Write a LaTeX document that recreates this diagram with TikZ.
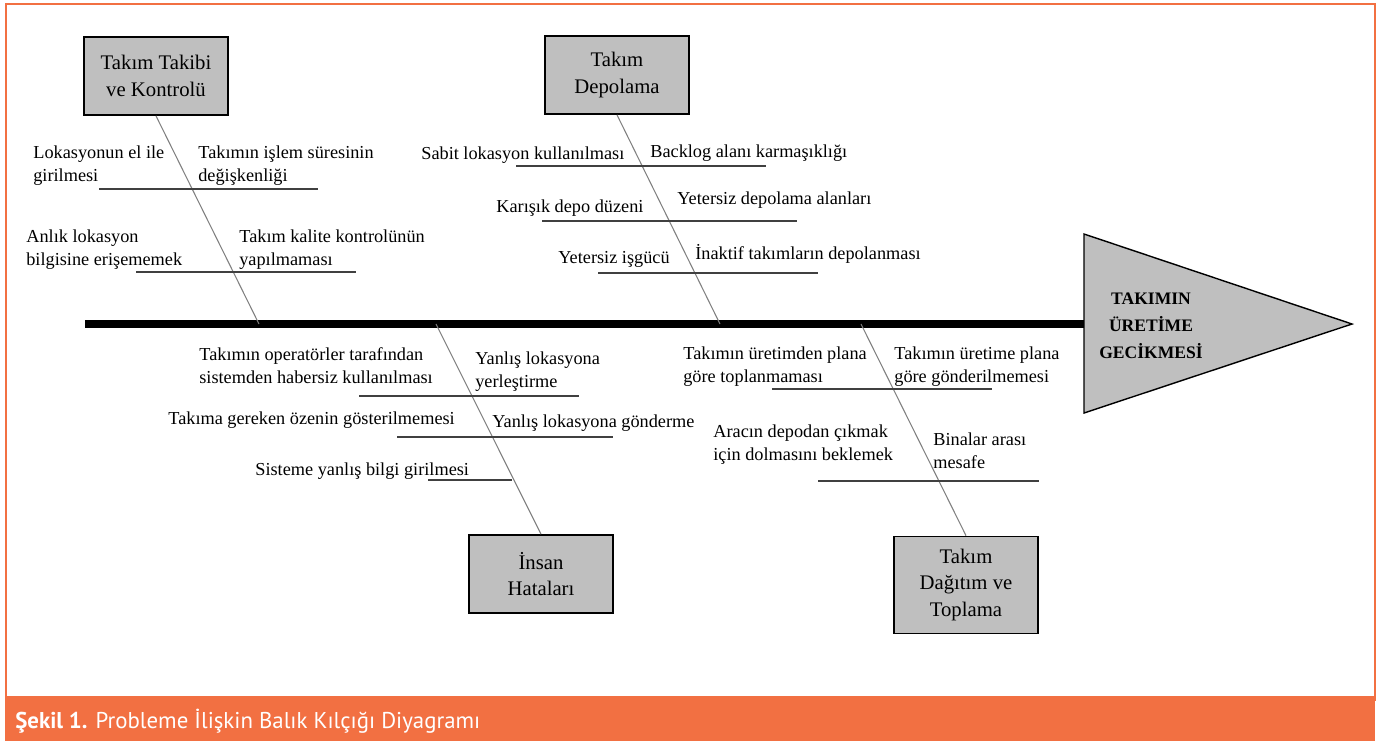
\documentclass[tikz,border=0pt]{standalone}
\usepackage{fontspec}
\setmainfont{Liberation Serif}
\newfontfamily\capfont{PT Sans}
\usepackage{xcolor}
\usetikzlibrary{positioning}
\definecolor{frameorange}{RGB}{242,112,66}
\definecolor{boxgray}{RGB}{191,191,191}
\tikzset{
  cause/.style={draw=black, line width=1pt, fill=boxgray, minimum width=2.88cm, minimum height=1.56cm, align=center, inner sep=0pt, font=\fontsize{11.8}{15.3}\selectfont},
  bone/.style={draw=black!50, line width=0.6pt},
  twig/.style={draw=black!75, line width=0.6pt},
  lbl/.style={anchor=base west, align=left, inner sep=0pt, font=\fontsize{10.4}{12.8}\selectfont},
}

\begin{document}
\begin{tikzpicture}[x=0.02cm, y=-0.02cm]
\useasboundingbox (0,0) rectangle (1378,741);
% frame and caption bar
\draw[frameorange, line width=0.8pt] (6,4) rectangle (1375,700);
\fill[frameorange] (5,696) rectangle (1375,741);
\node[anchor=base west, inner sep=0pt, text=white, font=\capfont\fontsize{13}{15}\selectfont] (caption) at (15,728) {\textbf{Şekil 1.} Probleme İlişkin Balık Kılçığı Diyagramı};

% head and spine
\filldraw[fill=boxgray, draw=black, line width=0.8pt] (1084,234) -- (1352,324) -- (1084,413) -- cycle;
\node[align=center, font=\bfseries\fontsize{10}{15.3}\selectfont] (effect) at (1151,326) {TAKIMIN\\ÜRETİME\\GECİKMESİ};
\coordinate (tail) at (85,324);
\coordinate (mouth) at (1084,324);
\draw[line width=4pt] (tail) -- (mouth);

% main causes
\node[cause] (tracking) at (156,76) {Takım Takibi\\ve Kontrolü};
\node[cause] (storage) at (617,75) {Takım\\Depolama};
\node[cause] (human) at (541,574) {İnsan\\Hataları};
\node[cause, minimum height=1.94cm] (dist) at (966,585) {Takım\\Dağıtım ve\\Toplama};

\coordinate (s1) at (259,324);
\coordinate (s2) at (720,324);
\coordinate (s3) at (436,324);
\coordinate (s4) at (861,324);
\draw[bone] (tracking.south) -- (s1);
\draw[bone] (storage.south) -- (s2);
\draw[bone] (human.north) -- (s3);
\draw[bone] (dist.north) -- (s4);

% sub causes
\foreach \n/\xa/\xb/\yy in {1/99/318/189, 2/136/356/272, 3/516/766/166, 4/542/797/221, 5/598/818/273,
  6/359/579/396, 7/397/613/437, 8/428/512/480, 9/772/992/389, 10/818/1039/481} {
  \coordinate (tw\n a) at (\xa,\yy);
  \coordinate (tw\n b) at (\xb,\yy);
  \draw[twig] (tw\n a) -- (tw\n b);
}

% labels (two-line ones sit on their last baseline)
\node[lbl] (a1) at (33,181) {Lokasyonun el ile\\girilmesi};
\node[lbl] (a2) at (198,181) {Takımın işlem süresinin\\değişkenliği};
\node[lbl] (a3) at (26,265) {Anlık lokasyon\\bilgisine erişememek};
\node[lbl] (a4) at (239,265) {Takım kalite kontrolünün\\yapılmaması};

\node[lbl] (b1) at (421,159) {Sabit lokasyon kullanılması};
\node[lbl] (b2) at (650,157) {Backlog alanı karmaşıklığı};
\node[lbl] (b3) at (496,212) {Karışık depo düzeni};
\node[lbl] (b4) at (677,204) {Yetersiz depolama alanları};
\node[lbl] (b5) at (558,263) {Yetersiz işgücü};
\node[lbl] (b6) at (695,259) {İnaktif takımların depolanması};

\node[lbl] (c1) at (199,383) {Takımın operatörler tarafından\\sistemden habersiz kullanılması};
\node[lbl] (c2) at (475,387) {Yanlış lokasyona\\yerleştirme};
\node[lbl] (c3) at (168,424) {Takıma gereken özenin gösterilmemesi};
\node[lbl] (c4) at (492,427) {Yanlış lokasyona gönderme};
\node[lbl] (c5) at (255,475) {Sisteme yanlış bilgi girilmesi};

\node[lbl] (d1) at (683,382) {Takımın üretimden plana\\göre toplanmaması};
\node[lbl] (d2) at (894,382) {Takımın üretime plana\\göre gönderilmemesi};
\node[lbl] (d3) at (713,460) {Aracın depodan çıkmak\\için dolmasını beklemek};
\node[lbl] (d4) at (933,468) {Binalar arası\\mesafe};
\end{tikzpicture}
\end{document}
